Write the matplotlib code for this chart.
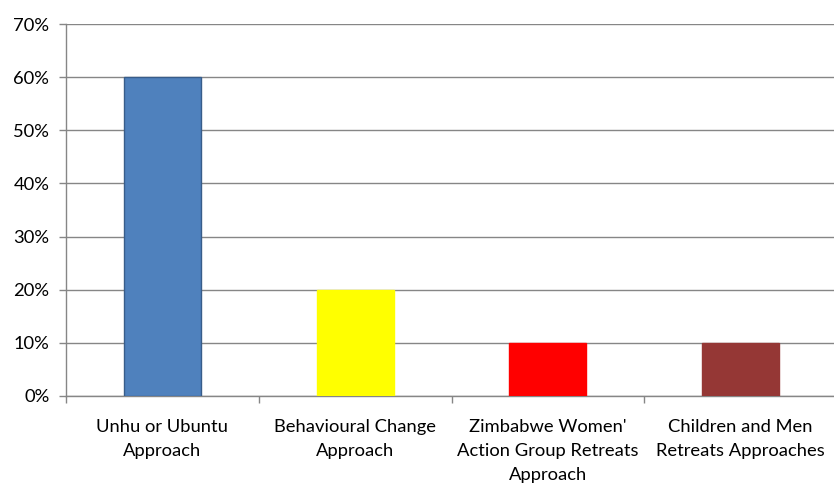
import numpy as np
import matplotlib.pyplot as plt
from matplotlib.ticker import FuncFormatter

categories = ['Unhu or Ubuntu\nApproach',
              'Behavioural Change\nApproach',
              "Zimbabwe Women'\nAction Group Retreats\nApproach",
              'Children and Men\nRetreats Approaches']
values = [0.60, 0.20, 0.10, 0.10]
colors = ['#4F81BD', '#FFFF00', '#FF0000', '#953735']
edges = ['#385D8A', '#FFFF00', '#FF0000', '#953735']

plt.rcParams['font.family'] = ['Lato', 'DejaVu Sans']

fig = plt.figure(figsize=(8.34, 4.84), dpi=100)
ax = fig.add_axes([66 / 834, 88 / 484, 771 / 834, 372 / 484])

x = np.arange(len(categories))
ax.bar(x, values, width=0.4, color=colors, edgecolor=edges, linewidth=1, zorder=3)

ax.set_xlim(-0.5, 3.5)
ax.set_ylim(0, 0.7)
ax.set_yticks(np.arange(0, 0.71, 0.1))
ax.yaxis.set_major_formatter(FuncFormatter(lambda v, p: '%d%%' % round(v * 100)))
ax.grid(axis='y', color='#868686', linewidth=1, zorder=0)

# category labels in the middle, ticks on the boundaries
ax.set_xticks(np.arange(-0.5, 3.6, 1))
ax.set_xticklabels([])
ax.set_xticks(x, minor=True)
ax.set_xticklabels(categories, minor=True, fontsize=13.2, color='#000000',
                   linespacing=1.6)
ax.tick_params(axis='x', which='minor', length=0, pad=16.5)
ax.tick_params(axis='x', which='major', length=5, color='#868686', width=1)
ax.tick_params(axis='y', length=5, color='#868686', width=1, labelsize=13.2, pad=7)

for s in ['top', 'right']:
    ax.spines[s].set_visible(False)
for s in ['left', 'bottom']:
    ax.spines[s].set_color('#868686')
    ax.spines[s].set_linewidth(1)

fig.savefig('out.png', dpi=100)
